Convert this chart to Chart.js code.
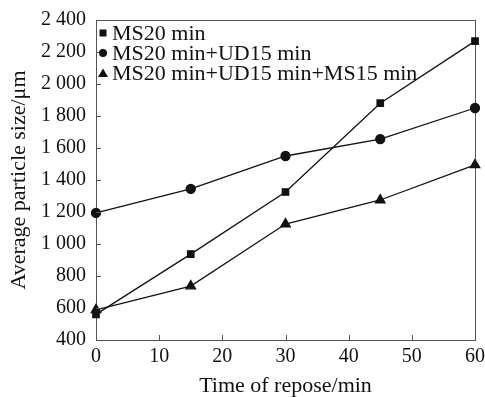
<!DOCTYPE html>
<html>
<head>
<meta charset="utf-8">
<script src="https://cdn.jsdelivr.net/npm/chart.js@4"></script>
<style>
  body { margin: 0; background: #fff; }
  #wrap { width: 485px; height: 397px; }
</style>
</head>
<body>
<div id="wrap"><canvas id="myChart" width="485" height="397"></canvas></div>
<script>
const times = [0, 15, 30, 45, 60];
const ms20 = [560, 937, 1325, 1880, 2268];
const ms20ud15 = [1194, 1344, 1550, 1656, 1850];
const ms20ud15ms15 = [588, 737, 1125, 1275, 1494];
const seriesNames = ['MS20 min', 'MS20 min+UD15 min', 'MS20 min+UD15 min+MS15 min'];
const xTicks = [0, 10, 20, 30, 40, 50, 60];
const yTicks = [400, 600, 800, 1000, 1200, 1400, 1600, 1800, 2000, 2200, 2400];

const serif = "'Liberation Serif', 'Times New Roman', serif";

const toPoints = (vals) => vals.map((v, i) => ({ x: times[i], y: v }));

// ticks pointing inside + the legend in the top left corner
const extras = {
    id: 'extras',
    afterDraw(chart) {
        const ctx = chart.ctx;
        const a = chart.chartArea;
        const xs = chart.scales.x, ys = chart.scales.y;
        ctx.save();
        ctx.strokeStyle = '#555';
        ctx.lineWidth = 1;
        ctx.beginPath();
        xTicks.forEach(t => {
            const px = Math.round(xs.getPixelForValue(t)) + 0.5;
            ctx.moveTo(px, a.bottom);
            ctx.lineTo(px, a.bottom - 5);
        });
        yTicks.forEach(t => {
            const py = Math.round(ys.getPixelForValue(t)) + 0.5;
            ctx.moveTo(a.left, py);
            ctx.lineTo(a.left + 5, py);
        });
        ctx.stroke();

        ctx.fillStyle = '#111';
        ctx.font = '22px ' + serif;
        ctx.textBaseline = 'middle';
        chart.data.datasets.forEach((ds, i) => {
            const y = a.top + 13 + i * 20;
            const x = a.left + 7;
            ctx.beginPath();
            if (ds.pointStyle === 'rect') {
                ctx.fillRect(x - 3.5, y - 3.5, 7, 7);
            } else if (ds.pointStyle === 'circle') {
                ctx.arc(x, y, 4, 0, Math.PI * 2);
                ctx.fill();
            } else {
                ctx.moveTo(x, y - 4.5);
                ctx.lineTo(x + 5, y + 4);
                ctx.lineTo(x - 5, y + 4);
                ctx.closePath();
                ctx.fill();
            }
            ctx.fillText(ds.label, x + 9, y + 1);
        });
        ctx.restore();
    }
};

const makeSet = (label, vals, style) => ({
    label: label,
    data: toPoints(vals),
    borderColor: '#111',
    backgroundColor: '#111',
    borderWidth: 1.3,
    pointStyle: style,
    pointRadius: style === 'triangle' ? 5.5 : 4.5,
    pointHoverRadius: 5,
    tension: 0,
    clip: false
});

const ctx = document.getElementById('myChart').getContext('2d');
const myChart = new Chart(ctx, {
    type: 'line',
    data: {
        datasets: [
            makeSet(seriesNames[0], ms20, 'rect'),
            makeSet(seriesNames[1], ms20ud15, 'circle'),
            makeSet(seriesNames[2], ms20ud15ms15, 'triangle')
        ]
    },
    options: {
        responsive: false,
        animation: false,
        layout: { padding: { top: 20, right: 10, left: 0, bottom: 0 } },
        plugins: {
            legend: { display: false },
            tooltip: { enabled: false }
        },
        scales: {
            x: {
                type: 'linear',
                min: 0,
                max: 60,
                afterBuildTicks: (s) => { s.ticks = xTicks.map(v => ({ value: v })); },
                afterFit: (s) => { s.height = 57; s.paddingLeft = 0; s.paddingRight = 0; },
                grid: { drawOnChartArea: false, drawTicks: false },
                border: { color: '#555', width: 1 },
                ticks: { color: '#111', font: { family: serif, size: 20 }, padding: 5, maxRotation: 0 },
                title: { display: true, text: 'Time of repose/min', color: '#111', font: { family: serif, size: 22, lineHeight: 1 }, padding: { top: 0, bottom: 0 } }
            },
            y: {
                min: 400,
                max: 2400,
                afterBuildTicks: (s) => { s.ticks = yTicks.map(v => ({ value: v })); },
                afterFit: (s) => { s.width = 96; s.paddingTop = 0; s.paddingBottom = 0; },
                grid: { drawOnChartArea: false, drawTicks: false },
                border: { color: '#555', width: 1 },
                ticks: {
                    color: '#111',
                    font: { family: serif, size: 20 },
                    padding: 10,
                    callback: (v) => v >= 1000 ? Math.floor(v / 1000) + ' ' + String(v % 1000).padStart(3, '0') : String(v)
                },
                title: { display: true, text: 'Average particle size/\u03bcm', color: '#111', font: { family: serif, size: 22 }, padding: { top: 6, bottom: 0 } }
            },
            x2: {
                type: 'linear', position: 'top', min: 0, max: 60,
                grid: { drawOnChartArea: false, drawTicks: false },
                border: { color: '#555', width: 1 },
                ticks: { display: false },
                afterFit: (s) => { s.height = 0; s.paddingLeft = 0; s.paddingRight = 0; }
            },
            y2: {
                type: 'linear', position: 'right', min: 400, max: 2400,
                grid: { drawOnChartArea: false, drawTicks: false },
                border: { color: '#555', width: 1 },
                ticks: { display: false },
                afterFit: (s) => { s.width = 0; s.paddingTop = 0; s.paddingBottom = 0; }
            }
        }
    },
    plugins: [extras]
});
</script>
</body>
</html>
